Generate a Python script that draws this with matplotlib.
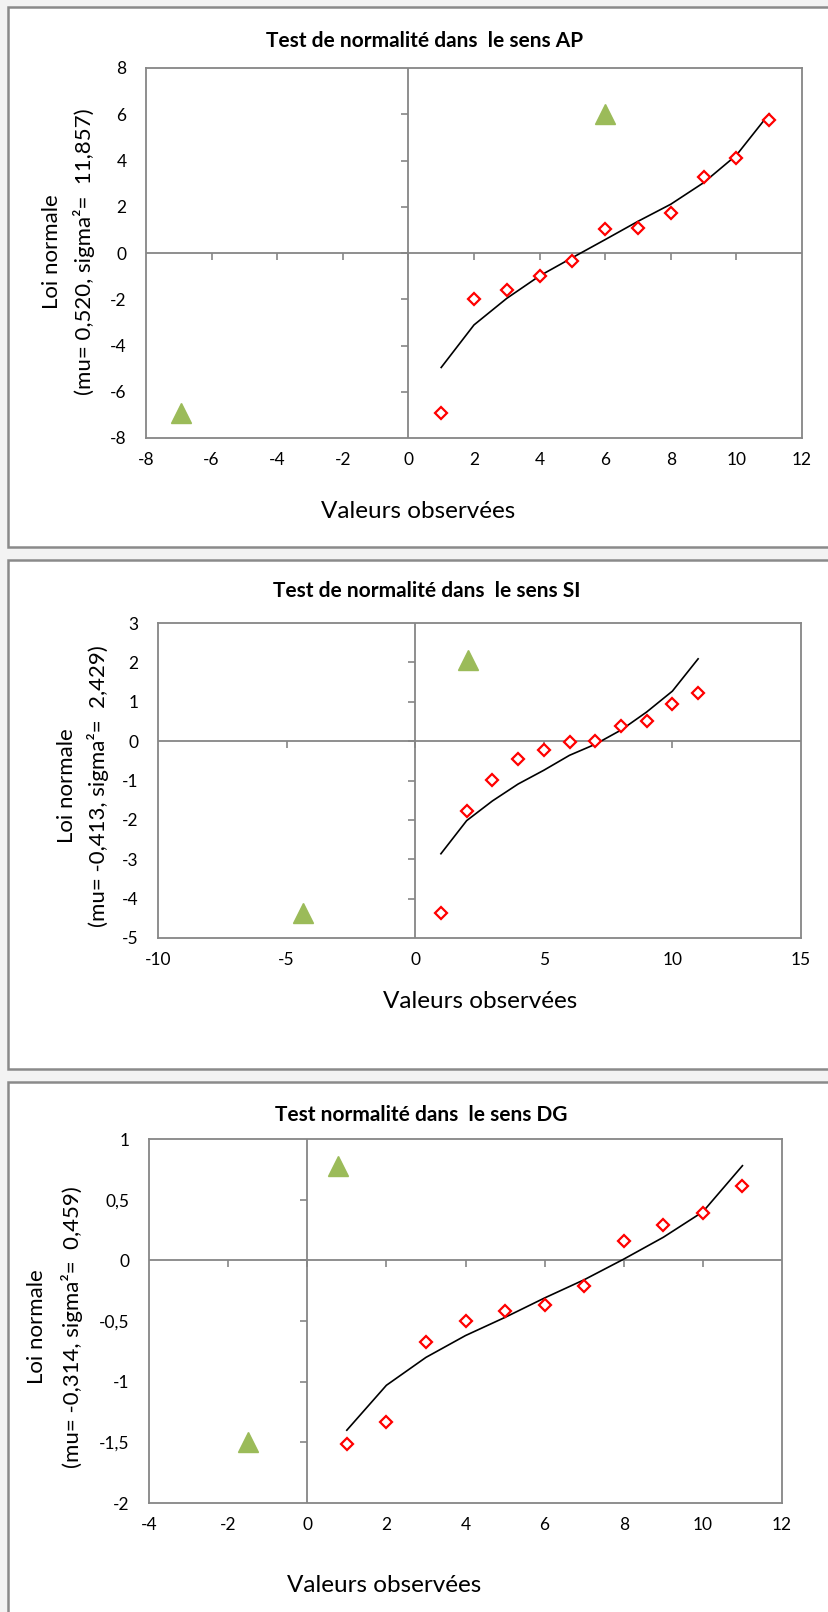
import numpy as np
import matplotlib
matplotlib.use('Agg')
import matplotlib.pyplot as plt
from matplotlib.patches import Rectangle
from matplotlib.markers import TICKDOWN, TICKLEFT

# Donnees (rang 1..11)
rangs = [1, 2, 3, 4, 5, 6, 7, 8, 9, 10, 11]

ap_obs = [-6.92, -2.0, -1.6, -0.99, -0.33, 1.05, 1.1, 1.75, 3.3, 4.12, 5.77]
ap_norm = [-4.95, -3.11, -1.96, -0.99, -0.2, 0.58, 1.37, 2.11, 3.04, 4.23, 6.02]
ap_tri = [-6.92, 6.0]

si_obs = [-4.37, -1.77, -0.98, -0.45, -0.22, -0.01, 0.01, 0.38, 0.5, 0.95, 1.22]
si_norm = [-2.86, -2.02, -1.52, -1.09, -0.74, -0.36, -0.08, 0.28, 0.74, 1.27, 2.09]
si_tri = [-4.37, 2.07]

dg_obs = [-1.51, -1.33, -0.67, -0.5, -0.42, -0.37, -0.21, 0.16, 0.29, 0.39, 0.61]
dg_norm = [-1.4, -1.03, -0.8, -0.62, -0.47, -0.31, -0.16, 0.01, 0.19, 0.4, 0.78]
dg_tri = [-1.5, 0.78]

titres = ["Test de normalité dans  le sens AP",
          "Test de normalité dans  le sens SI",
          "Test normalité dans  le sens DG"]
ylabels = ["(mu= 0,520, sigma²=  11,857)",
           "(mu= -0,413, sigma²=  2,429)",
           "(mu= -0,314, sigma²=  0,459)"]

ap_xticks = [-8, -6, -4, -2, 0, 2, 4, 6, 8, 10, 12]
ap_yticks = [-8, -6, -4, -2, 0, 2, 4, 6, 8]
si_xticks = [-10, -5, 0, 5, 10, 15]
si_yticks = [-5, -4, -3, -2, -1, 0, 1, 2, 3]
dg_xticks = [-4, -2, 0, 2, 4, 6, 8, 10, 12]
dg_yticks = [-2, -1.5, -1, -0.5, 0, 0.5, 1]

W, H = 829, 1612
GRIS = '#868686'
VERT = '#9bbb59'
FONT = ['Lato', 'DejaVu Sans']


def fmt(v):
    return ('%g' % v).replace('.', ',')


def panneau(fig, box, frame, obs, norm, tri, xticks, yticks, titre, ylab,
            title_xy, xlab_xy, ylab_x):
    left, top, right, bottom = box

    # cadre blanc du panneau (style Excel), dessine sous les axes
    fig.patches.append(Rectangle((frame[0] / W, 1 - frame[3] / H),
                                 (frame[2] - frame[0]) / W, (frame[3] - frame[1]) / H,
                                 transform=fig.transFigure, facecolor='white',
                                 edgecolor='#8a8a8a', linewidth=1.8, zorder=-5))

    ax = fig.add_axes([left / W, 1 - bottom / H, (right - left) / W, (bottom - top) / H])
    ax.set_facecolor('white')
    ax.set_xlim(xticks[0], xticks[-1])
    ax.set_ylim(yticks[0], yticks[-1])
    ax.set_xticks(xticks)
    ax.set_yticks(yticks)
    ax.set_xticklabels([fmt(v) for v in xticks], family=FONT, fontsize=12.5)
    ax.set_yticklabels([fmt(v) for v in yticks], family=FONT, fontsize=12.5)
    ax.tick_params(axis='x', length=0, pad=10)
    ax.tick_params(axis='y', length=0, pad=14)
    for sp in ax.spines.values():
        sp.set_color(GRIS)
        sp.set_linewidth(1.3)

    # axes passant par zero
    ax.axhline(0, color=GRIS, lw=1.3, zorder=1)
    ax.axvline(0, color=GRIS, lw=1.3, zorder=1)
    ax.plot(xticks[1:-1], [0] * (len(xticks) - 2), ls='none', marker=TICKDOWN,
            ms=5, mew=1.2, color=GRIS, clip_on=False, zorder=1)
    ax.plot([0] * (len(yticks) - 2), yticks[1:-1], ls='none', marker=TICKLEFT,
            ms=5, mew=1.2, color=GRIS, clip_on=False, zorder=1)

    ax.plot(rangs, norm, color='black', lw=1.2, zorder=3)
    ax.plot(rangs, obs, ls='none', marker='D', ms=6, mfc='white', mec='red',
            mew=1.6, zorder=4)
    ax.plot(tri, tri, ls='none', marker='^', ms=14, color=VERT, zorder=4)

    fig.text(title_xy[0] / W, 1 - title_xy[1] / H, titre, family=FONT,
             fontsize=15, weight='bold', ha='center', va='center')
    fig.text(xlab_xy[0] / W, 1 - xlab_xy[1] / H, "Valeurs observées", family=FONT,
             fontsize=17.5, ha='center', va='center')
    fig.text(ylab_x[0] / W, 1 - ylab_x[2] / H, "Loi normale", family=FONT,
             fontsize=16, rotation=90, ha='center', va='center')
    fig.text(ylab_x[1] / W, 1 - ylab_x[2] / H, ylab, family=FONT,
             fontsize=16, rotation=90, ha='center', va='center')
    return ax


fig = plt.figure(figsize=(W / 100, H / 100), dpi=100)
fig.patch.set_facecolor('#f3f3f3')

panneau(fig, (146, 68, 802, 438), (8, 7, 840, 547), ap_obs, ap_norm, ap_tri,
        ap_xticks, ap_yticks, titres[0], ylabels[0], (425, 41), (418, 511), (52, 84, 252))
panneau(fig, (158, 623, 801, 938), (8, 560, 840, 1069), si_obs, si_norm, si_tri,
        si_xticks, si_yticks, titres[1], ylabels[1], (427, 591), (480, 1001), (67, 98, 786))
panneau(fig, (149, 1139, 782, 1503), (8, 1082, 840, 1640), dg_obs, dg_norm, dg_tri,
        dg_xticks, dg_yticks, titres[2], ylabels[2], (421, 1115), (384, 1586), (37, 72, 1327))

fig.savefig("out.png", dpi=100, facecolor=fig.get_facecolor())
plt.close()
